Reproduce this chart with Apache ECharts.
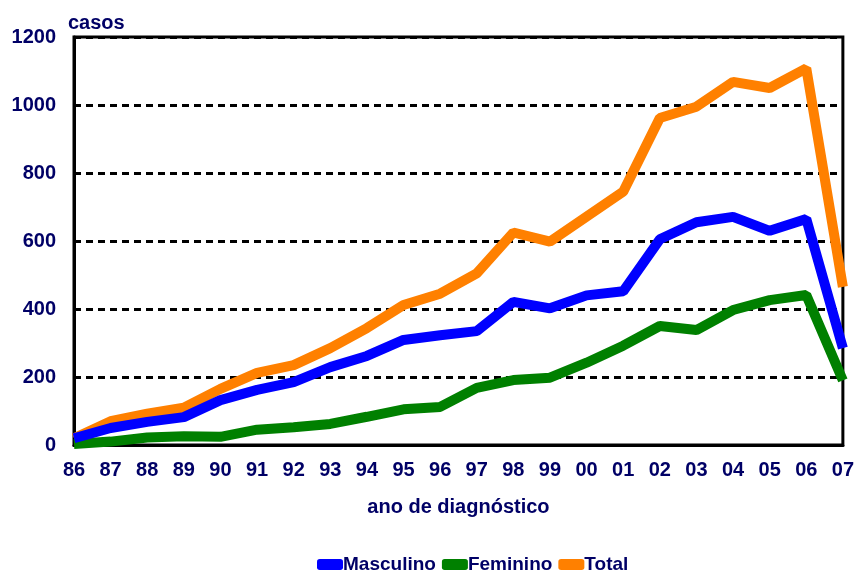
<!DOCTYPE html>
<html>
<head>
<meta charset="utf-8">
<script src="https://cdn.jsdelivr.net/npm/echarts@6/dist/echarts.min.js"></script>
<style>
  html, body { margin: 0; padding: 0; background: #fff; }
  #chart { width: 857px; height: 574px; }
</style>
</head>
<body>
<div id="chart"></div>
<script>
// anos de diagnóstico
const anos = ['86', '87', '88', '89', '90', '91', '92', '93', '94', '95', '96',
              '97', '98', '99', '00', '01', '02', '03', '04', '05', '06', '07'];

// casos por ano
const masculino = [20, 50, 68, 82, 132, 162, 185, 229, 262, 309, 323,
                   335, 421, 402, 440, 452, 605, 655, 671, 630, 665, 285];
const feminino = [3, 10, 22, 26, 24, 45, 52, 62, 83, 105, 112,
                  168, 191, 198, 242, 292, 350, 338, 397, 426, 441, 190];
const total = [20, 70, 92, 110, 165, 212, 235, 285, 344, 412, 445,
               505, 625, 598, 672, 745, 962, 995, 1068, 1050, 1108, 465];

const textColor = '#000066';
const fontFamily = '"Liberation Sans", Arial, sans-serif';

const chart = echarts.init(document.getElementById('chart'));

chart.setOption({
    backgroundColor: '#fff',
    animation: false,
    textStyle: { fontFamily: fontFamily },
    grid: {
        left: 74,
        right: 11,
        top: 37,
        bottom: 129,
        show: true,
        borderColor: '#000',
        borderWidth: 3
    },
    legend: {
        data: ['Masculino', 'Feminino', 'Total'],
        top: 550,
        left: 312,
        icon: 'roundRect',
        itemWidth: 26,
        itemHeight: 11,
        itemGap: 6,
        textStyle: {
            color: textColor,
            fontSize: 19,
            fontWeight: 'bold',
            padding: [0, 0, 0, -5]
        }
    },
    xAxis: {
        type: 'category',
        data: anos,
        boundaryGap: false,
        name: 'ano de diagnóstico',
        nameLocation: 'middle',
        nameGap: 52,
        nameTextStyle: {
            color: textColor,
            fontSize: 20,
            fontWeight: 'bold'
        },
        axisLine: { lineStyle: { color: '#000', width: 3 } },
        axisTick: { show: false },
        axisLabel: {
            color: textColor,
            fontSize: 20,
            fontWeight: 'bold',
            margin: 15,
            interval: 0
        },
        splitLine: { show: false }
    },
    yAxis: {
        type: 'value',
        min: 0,
        max: 1200,
        interval: 200,
        name: 'casos',
        nameLocation: 'end',
        nameGap: 4,
        nameTextStyle: {
            color: textColor,
            fontSize: 20,
            fontWeight: 'bold',
            align: 'left',
            padding: [0, 0, 0, -6]
        },
        axisLine: { show: true, lineStyle: { color: '#000', width: 3 } },
        axisTick: { show: false },
        axisLabel: {
            color: textColor,
            fontSize: 20,
            fontWeight: 'bold',
            margin: 18,
            formatter: (v) => String(v)
        },
        splitLine: {
            show: true,
            lineStyle: { color: '#000', width: 3, type: [7, 5] }
        }
    },
    series: [
        {
            name: 'Total',
            type: 'line',
            data: total,
            symbol: 'none',
            color: '#ff8000',
            lineStyle: { width: 10 }
        },
        {
            name: 'Feminino',
            type: 'line',
            data: feminino,
            symbol: 'none',
            color: '#008000',
            lineStyle: { width: 10 }
        },
        {
            name: 'Masculino',
            type: 'line',
            data: masculino,
            symbol: 'none',
            color: '#0000ff',
            lineStyle: { width: 10 }
        }
    ]
});
</script>
</body>
</html>
